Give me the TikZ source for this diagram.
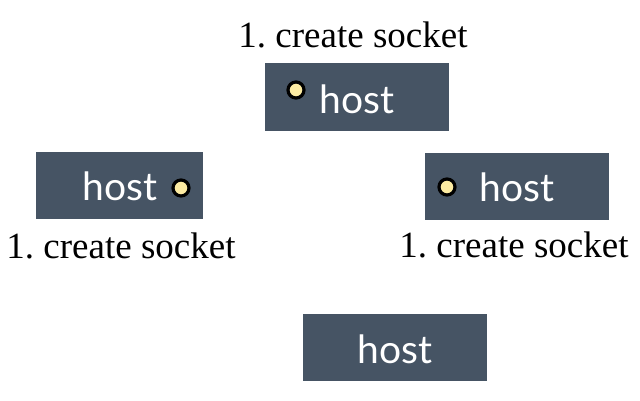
\documentclass[tikz,border=0pt]{standalone}
\usepackage{fontspec}
\setmainfont{Liberation Serif}
\newfontfamily\hostfont{Lato}
\usepackage{tikz}
\definecolor{hostgray}{HTML}{465464}
\definecolor{sockyellow}{HTML}{FCEBA2}

\begin{document}
\begin{tikzpicture}[x=1pt,y=-1pt]
\useasboundingbox (0,0) rectangle (640,400);
\tikzset{hostbox/.style={fill=hostgray, draw=none, inner sep=0pt},
  hostlabel/.style={anchor=base, text=white, font=\hostfont\fontsize{39}{39}\selectfont},
  socket/.style={circle, fill=sockyellow, draw=black, line width=3.2pt, minimum size=16pt, inner sep=0pt},
  steplabel/.style={anchor=base, font=\fontsize{37}{37}\selectfont}}

% hosts
\node [hostbox, minimum width=184pt, minimum height=68pt] (topbox) at (357,97) {};
\node [hostbox, minimum width=167pt, minimum height=67pt] (leftbox) at (119.5,185.5) {};
\node [hostbox, minimum width=184pt, minimum height=67pt] (rightbox) at (517,186.5) {};
\node [hostbox, minimum width=184pt, minimum height=67pt] (bottombox) at (395,347.5) {};

\node [hostlabel] (tophost) at (357,113) {host};
\node [hostlabel] (lefthost) at (120,200) {host};
\node [hostlabel] (righthost) at (517,201) {host};
\node [hostlabel] (bottomhost) at (395,363) {host};

% sockets
\node [socket] (topsock) at (296,90) {};
\node [socket] (leftsock) at (181,188) {};
\node [socket] (rightsock) at (447,187) {};

% steps
\node [steplabel] (topstep) at (353,47) {1.\ create socket};
\node [steplabel] (leftstep) at (121,258) {1.\ create socket};
\node [steplabel] (rightstep) at (514,257) {1.\ create socket};
\end{tikzpicture}
\end{document}
